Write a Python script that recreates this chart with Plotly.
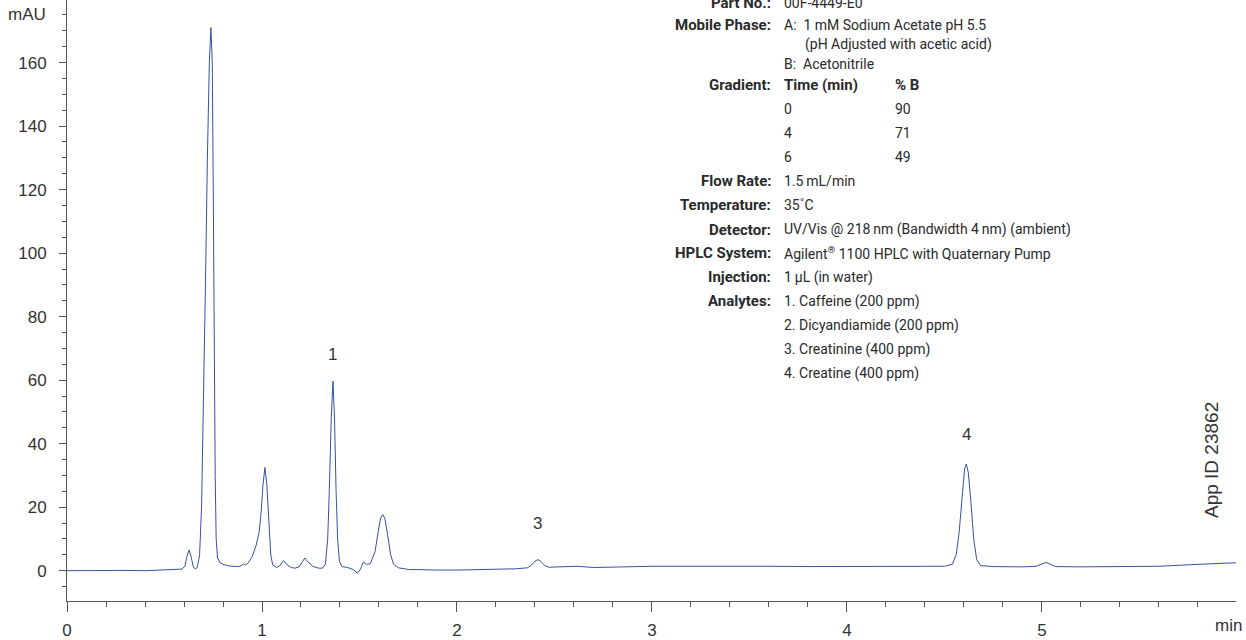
import plotly.graph_objects as go

# ---- data ----
time_min = [0.00, 0.10, 0.20, 0.30, 0.40, 0.45, 0.50, 0.55, 0.59, 0.605, 0.615, 0.626, 0.636, 0.648,
            0.658, 0.668, 0.680, 0.690, 0.700, 0.710, 0.720, 0.730, 0.738, 0.745, 0.750, 0.755, 0.760,
            0.765, 0.772, 0.785, 0.80, 0.83, 0.86, 0.88, 0.895, 0.905, 0.915, 0.93, 0.95, 0.97, 0.985,
            0.995, 1.005, 1.015, 1.025, 1.035, 1.045, 1.055, 1.075, 1.09, 1.11, 1.13, 1.15, 1.17, 1.19,
            1.205, 1.22, 1.235, 1.26, 1.29, 1.31, 1.325, 1.337, 1.345, 1.355, 1.364, 1.372, 1.380, 1.388,
            1.397, 1.41, 1.44, 1.47, 1.49, 1.505, 1.52, 1.535, 1.555, 1.58, 1.595, 1.608, 1.619, 1.63,
            1.645, 1.66, 1.675, 1.70, 1.75, 1.80, 1.85, 1.90, 2.00, 2.10, 2.20, 2.30, 2.36, 2.38, 2.40,
            2.415, 2.43, 2.45, 2.47, 2.55, 2.62, 2.70, 2.80, 2.90, 3.00, 3.20, 3.40, 3.60, 3.80, 4.00,
            4.20, 4.40, 4.50, 4.54, 4.56, 4.575, 4.59, 4.603, 4.612, 4.622, 4.635, 4.65, 4.665, 4.685,
            4.75, 4.90, 4.97, 5.00, 5.02, 5.04, 5.07, 5.20, 5.40, 5.60, 5.80, 5.995]
signal_mau = [0.0, 0.1, 0.2, 0.1, 0.0, 0.1, 0.3, 0.4, 0.5, 1.5, 4.5, 6.5, 4.5, 1.2,
              0.5, 1.0, 5.0, 20.0, 50.0, 90.0, 130.0, 160.0, 171.0, 160.0, 120.0, 70.0, 30.0,
              10.0, 4.0, 2.5, 2.0, 1.5, 1.3, 1.3, 1.6, 2.1, 1.8, 2.5, 4.5, 8.0, 12.0,
              18.0, 27.0, 32.5, 27.0, 15.0, 5.0, 1.8, 1.0, 1.5, 3.2, 1.8, 1.0, 0.8, 1.2,
              2.6, 4.0, 2.8, 1.4, 0.8, 0.8, 2.0, 10.0, 25.0, 48.0, 59.7, 48.0, 25.0, 10.0,
              3.0, 1.3, 1.0, 0.3, -0.8, 0.5, 2.8, 2.0, 2.2, 6.0, 12.0, 16.5, 17.7, 16.5,
              11.0, 5.0, 2.0, 0.9, 0.4, 0.3, 0.3, 0.2, 0.2, 0.3, 0.3, 0.6, 0.9, 1.6, 3.0,
              3.5, 2.9, 1.6, 1.1, 1.2, 1.4, 1.0, 1.2, 1.3, 1.4, 1.4, 1.5, 1.4, 1.3, 1.3,
              1.3, 1.3, 1.4, 2.0, 5.0, 12.0, 24.0, 32.0, 33.6, 31.0, 22.0, 10.0, 3.5, 1.6,
              1.3, 1.2, 1.4, 2.2, 2.6, 2.1, 1.3, 1.2, 1.3, 1.4, 2.0, 2.5]

peak_labels = ["1", "3", "4"]
peak_label_x = [1.362, 2.415, 4.615]
peak_label_y = [68, 15, 43]

x_tickvals = [0, 1, 2, 3, 4, 5]
y_tickvals = [0, 20, 40, 60, 80, 100, 120, 140, 160]

info_rows = [
    ("Part No.:", "00F-4449-E0"),
    ("Mobile Phase:", "A:  1 mM Sodium Acetate pH 5.5"),
    ("", "(pH Adjusted with acetic acid)"),
    ("", "B:  Acetonitrile"),
    ("Gradient:", "Time (min)"),
    ("", "0"),
    ("", "4"),
    ("", "6"),
    ("Flow Rate:", "1.5\u2009mL/min"),
    ("Temperature:", "35\u02daC"),
    ("Detector:", "UV/Vis @ 218\u2009nm (Bandwidth 4\u2009nm) (ambient)"),
    ("HPLC System:", "Agilent<sup>®</sup> 1100 HPLC with Quaternary Pump"),
    ("Injection:", "1\u2009µL (in water)"),
    ("Analytes:", "1. Caffeine (200 ppm)"),
    ("", "2. Dicyandiamide (200 ppm)"),
    ("", "3. Creatinine (400 ppm)"),
    ("", "4. Creatine (400 ppm)"),
]
percent_b = ["% B", "90", "71", "49"]

# ---- layout geometry (pixels) ----
W, H = 1246, 640
L, R, T, B = 67, 10, 0, 39
PW, PH = W - L - R, H - T - B

def px(xp):
    return (xp - L) / PW

def py(yp):
    return 1 - (yp - T) / PH

row_y = [3, 25, 44.5, 63.5, 85, 109, 133, 157, 181, 205, 229.5, 253, 277, 301, 325.5, 349.5, 373.5]

LINE = "#3452a4"
AXIS = "#555555"
TXT = "#2a2a2a"
TICKFONT = dict(family="Liberation Sans, Arial, Helvetica, sans-serif", size=17, color="#333333")
INFOFONT = "Roboto, Liberation Sans, sans-serif"
LABEL_SIZE = 15
VALUE_SIZE = 14

fig = go.Figure()
fig.add_trace(go.Scatter(x=time_min, y=signal_mau, mode="lines",
                         line=dict(color=LINE, width=1), hoverinfo="skip", showlegend=False))

ann = []
for t, xx, yy in zip(peak_labels, peak_label_x, peak_label_y):
    ann.append(dict(x=xx, y=yy, xref="x", yref="y", text=t, showarrow=False,
                    font=TICKFONT, xanchor="center", yanchor="middle"))

ann.append(dict(x=0, y=175, xref="paper", yref="y", text="mAU", showarrow=False,
                font=TICKFONT, xanchor="right", yanchor="middle", xshift=-19))
ann.append(dict(x=1, y=py(625), xref="paper", yref="paper", text="min", showarrow=False,
                font=TICKFONT, xanchor="right", yanchor="middle", xshift=8))
ann.append(dict(x=px(1211), y=py(460), xref="paper", yref="paper", text="App ID 23862",
                showarrow=False, textangle=-90, font=dict(TICKFONT, size=19),
                xanchor="center", yanchor="middle"))

for (lab, val), yy in zip(info_rows, row_y):
    bold_val = val == "Time (min)"
    if lab:
        ann.append(dict(x=px(773), y=py(yy), xref="paper", yref="paper", text="<b>" + lab + "</b>",
                        showarrow=False, xanchor="right", yanchor="middle",
                        font=dict(family=INFOFONT, size=LABEL_SIZE, color=TXT)))
    xv = 803 if val.startswith("(pH") else 782
    ann.append(dict(x=px(xv), y=py(yy), xref="paper", yref="paper",
                    text=("<b>" + val + "</b>") if bold_val else val,
                    showarrow=False, xanchor="left", yanchor="middle",
                    font=dict(family=INFOFONT, size=(LABEL_SIZE if bold_val else VALUE_SIZE), color=TXT)))
for txt, yy in zip(percent_b, row_y[4:8]):
    ann.append(dict(x=px(893), y=py(yy), xref="paper", yref="paper",
                    text=("<b>" + txt + "</b>") if txt == "% B" else txt,
                    showarrow=False, xanchor="left", yanchor="middle",
                    font=dict(family=INFOFONT, size=(LABEL_SIZE if txt == "% B" else VALUE_SIZE), color=TXT)))

fig.update_layout(
    width=W, height=H,
    margin=dict(l=L, r=R, t=T, b=B, pad=0),
    paper_bgcolor="white", plot_bgcolor="white",
    showlegend=False,
    annotations=ann,
    xaxis=dict(range=[0, 5.995], tickvals=x_tickvals, ticktext=[str(v) for v in x_tickvals],
               showgrid=False, zeroline=False, showline=True, linecolor=AXIS, linewidth=1,
               ticks="outside", ticklen=10, tickcolor=AXIS, tickwidth=1, tickfont=TICKFONT,
               ticklabelstandoff=4,
               minor=dict(dtick=0.2, tick0=0, ticks="outside", ticklen=5, tickcolor=AXIS,
                          showgrid=False)),
    yaxis=dict(range=[-9.54, 179.7], tickvals=y_tickvals, ticktext=[str(v) for v in y_tickvals],
               showgrid=False, zeroline=False, showline=True, linecolor=AXIS, linewidth=1,
               ticks="outside", ticklen=7, tickcolor=AXIS, tickwidth=1, tickfont=TICKFONT,
               ticklabelstandoff=9,
               minor=dict(dtick=5, tick0=0, ticks="outside", ticklen=4, tickcolor=AXIS,
                          showgrid=False)),
)

fig.write_html("out.html")
